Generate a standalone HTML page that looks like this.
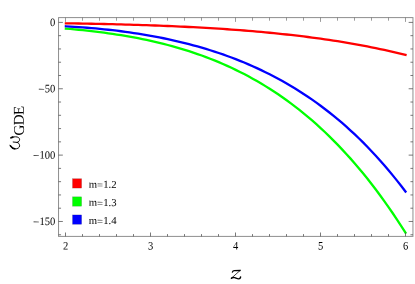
<!DOCTYPE html>
<html><head><meta charset="utf-8"><style>
html,body{margin:0;padding:0;background:#fff;}
svg{display:block;will-change:transform;}
text{font-family:"Liberation Serif",serif;font-size:10.7px;fill:#000;text-rendering:geometricPrecision;}
</style></head><body>
<svg width="415" height="284" viewBox="0 0 415 284">
<rect width="415" height="284" fill="#fff"/>
<path d="M65.90,23.33 L70.15,23.39 L74.39,23.45 L78.64,23.52 L82.88,23.59 L87.12,23.66 L91.37,23.74 L95.62,23.82 L99.86,23.91 L104.11,24.00 L108.35,24.10 L112.60,24.20 L116.84,24.30 L121.09,24.41 L125.33,24.53 L129.57,24.65 L133.82,24.78 L138.07,24.91 L142.31,25.05 L146.56,25.19 L150.80,25.34 L155.05,25.50 L159.29,25.66 L163.54,25.83 L167.78,26.00 L172.03,26.18 L176.27,26.37 L180.51,26.57 L184.76,26.77 L189.01,26.98 L193.25,27.20 L197.50,27.43 L201.74,27.66 L205.98,27.91 L210.23,28.16 L214.48,28.42 L218.72,28.69 L222.97,28.97 L227.21,29.26 L231.45,29.56 L235.70,29.87 L239.95,30.19 L244.19,30.52 L248.44,30.87 L252.68,31.22 L256.92,31.59 L261.17,31.96 L265.42,32.35 L269.66,32.76 L273.91,33.17 L278.15,33.60 L282.39,34.04 L286.64,34.50 L290.88,34.97 L295.13,35.46 L299.38,35.96 L303.62,36.48 L307.87,37.01 L312.11,37.56 L316.36,38.13 L320.60,38.71 L324.85,39.31 L329.09,39.93 L333.33,40.57 L337.58,41.23 L341.82,41.91 L346.07,42.61 L350.32,43.33 L354.56,44.07 L358.81,44.84 L363.05,45.62 L367.30,46.44 L371.54,47.27 L375.79,48.13 L380.03,49.01 L384.27,49.92 L388.52,50.86 L392.76,51.83 L397.01,52.82 L401.26,53.84 L405.50,54.90" stroke="#ff0000" stroke-width="2.3" fill="none" stroke-linecap="square" stroke-linejoin="round"/>
<path d="M65.90,28.58 L70.15,28.95 L74.39,29.33 L78.64,29.74 L82.88,30.17 L87.12,30.62 L91.37,31.10 L95.62,31.60 L99.86,32.13 L104.11,32.68 L108.35,33.27 L112.60,33.88 L116.84,34.52 L121.09,35.19 L125.33,35.90 L129.57,36.64 L133.82,37.41 L138.07,38.22 L142.31,39.06 L146.56,39.95 L150.80,40.87 L155.05,41.84 L159.29,42.85 L163.54,43.90 L167.78,44.99 L172.03,46.13 L176.27,47.32 L180.51,48.56 L184.76,49.85 L189.01,51.19 L193.25,52.59 L197.50,54.04 L201.74,55.54 L205.98,57.11 L210.23,58.73 L214.48,60.42 L218.72,62.17 L222.97,63.98 L227.21,65.87 L231.45,67.82 L235.70,69.84 L239.95,71.93 L244.19,74.10 L248.44,76.34 L252.68,78.66 L256.92,81.06 L261.17,83.54 L265.42,86.11 L269.66,88.76 L273.91,91.50 L278.15,94.33 L282.39,97.25 L286.64,100.27 L290.88,103.38 L295.13,106.59 L299.38,109.91 L303.62,113.32 L307.87,116.84 L312.11,120.47 L316.36,124.21 L320.60,128.06 L324.85,132.03 L329.09,136.11 L333.33,140.31 L337.58,144.64 L341.82,149.09 L346.07,153.67 L350.32,158.38 L354.56,163.22 L358.81,168.20 L363.05,173.32 L367.30,178.57 L371.54,183.98 L375.79,189.52 L380.03,195.22 L384.27,201.07 L388.52,207.08 L392.76,213.24 L397.01,219.57 L401.26,226.05 L405.50,232.71" stroke="#00ff00" stroke-width="2.3" fill="none" stroke-linecap="square" stroke-linejoin="round"/>
<path d="M65.90,26.29 L70.15,26.53 L74.39,26.80 L78.64,27.09 L82.88,27.40 L87.12,27.73 L91.37,28.09 L95.62,28.46 L99.86,28.87 L104.11,29.29 L108.35,29.74 L112.60,30.22 L116.84,30.73 L121.09,31.26 L125.33,31.82 L129.57,32.41 L133.82,33.03 L138.07,33.68 L142.31,34.36 L146.56,35.07 L150.80,35.81 L155.05,36.59 L159.29,37.41 L163.54,38.25 L167.78,39.14 L172.03,40.06 L176.27,41.03 L180.51,42.03 L184.76,43.07 L189.01,44.15 L193.25,45.28 L197.50,46.45 L201.74,47.66 L205.98,48.92 L210.23,50.23 L214.48,51.59 L218.72,52.99 L222.97,54.45 L227.21,55.96 L231.45,57.53 L235.70,59.15 L239.95,60.82 L244.19,62.56 L248.44,64.35 L252.68,66.21 L256.92,68.13 L261.17,70.12 L265.42,72.17 L269.66,74.29 L273.91,76.48 L278.15,78.74 L282.39,81.08 L286.64,83.49 L290.88,85.98 L295.13,88.55 L299.38,91.20 L303.62,93.94 L307.87,96.76 L312.11,99.67 L316.36,102.67 L320.60,105.77 L324.85,108.96 L329.09,112.25 L333.33,115.64 L337.58,119.13 L341.82,122.74 L346.07,126.45 L350.32,130.27 L354.56,134.21 L358.81,138.27 L363.05,142.44 L367.30,146.75 L371.54,151.18 L375.79,155.74 L380.03,160.44 L384.27,165.27 L388.52,170.25 L392.76,175.37 L397.01,180.64 L401.26,186.07 L405.50,191.65" stroke="#0000ff" stroke-width="2.3" fill="none" stroke-linecap="square" stroke-linejoin="round"/>
<rect x="58.55" y="17.6" width="354.4" height="218.8" fill="none" stroke="#8e8e8e" stroke-width="1"/>
<path d="M65.50,236.4 v-3.9 M82.50,236.4 v-2.3 M99.50,236.4 v-2.3 M116.50,236.4 v-2.3 M133.50,236.4 v-2.3 M150.50,236.4 v-3.9 M167.50,236.4 v-2.3 M184.50,236.4 v-2.3 M201.50,236.4 v-2.3 M218.50,236.4 v-2.3 M235.50,236.4 v-3.9 M252.50,236.4 v-2.3 M269.50,236.4 v-2.3 M286.50,236.4 v-2.3 M303.50,236.4 v-2.3 M320.50,236.4 v-3.9 M337.50,236.4 v-2.3 M354.50,236.4 v-2.3 M371.50,236.4 v-2.3 M388.50,236.4 v-2.3 M405.50,236.4 v-3.9 M58.55,22.40 h4.3 M412.95,22.40 h-4.3 M58.55,35.67 h2.5 M412.95,35.67 h-2.5 M58.55,48.94 h2.5 M412.95,48.94 h-2.5 M58.55,62.22 h2.5 M412.95,62.22 h-2.5 M58.55,75.49 h2.5 M412.95,75.49 h-2.5 M58.55,88.76 h4.3 M412.95,88.76 h-4.3 M58.55,102.03 h2.5 M412.95,102.03 h-2.5 M58.55,115.30 h2.5 M412.95,115.30 h-2.5 M58.55,128.58 h2.5 M412.95,128.58 h-2.5 M58.55,141.85 h2.5 M412.95,141.85 h-2.5 M58.55,155.12 h4.3 M412.95,155.12 h-4.3 M58.55,168.39 h2.5 M412.95,168.39 h-2.5 M58.55,181.66 h2.5 M412.95,181.66 h-2.5 M58.55,194.94 h2.5 M412.95,194.94 h-2.5 M58.55,208.21 h2.5 M412.95,208.21 h-2.5 M58.55,221.48 h4.3 M412.95,221.48 h-4.3 M58.55,234.75 h2.5 M412.95,234.75 h-2.5" stroke="#4c4c4c" stroke-width="0.75" fill="none"/>
<path d="M65.50,17.6 v4.3 M82.50,17.6 v3.1 M99.50,17.6 v3.1 M116.50,17.6 v3.1 M133.50,17.6 v3.1 M150.50,17.6 v4.3 M167.50,17.6 v3.1 M184.50,17.6 v3.1 M201.50,17.6 v3.1 M218.50,17.6 v3.1 M235.50,17.6 v4.3 M252.50,17.6 v3.1 M269.50,17.6 v3.1 M286.50,17.6 v3.1 M303.50,17.6 v3.1 M320.50,17.6 v4.3 M337.50,17.6 v3.1 M354.50,17.6 v3.1 M371.50,17.6 v3.1 M388.50,17.6 v3.1 M405.50,17.6 v4.3" stroke="#666" stroke-width="0.65" fill="none"/>
<text x="65.50" y="249.5" text-anchor="middle" transform="translate(65.50 249.5) rotate(0.5) scale(0.98 1.06) translate(-65.50 -249.5)">2</text><text x="150.50" y="249.5" text-anchor="middle" transform="translate(150.50 249.5) rotate(0.5) scale(0.98 1.06) translate(-150.50 -249.5)">3</text><text x="235.50" y="249.5" text-anchor="middle" transform="translate(235.50 249.5) rotate(0.5) scale(0.98 1.06) translate(-235.50 -249.5)">4</text><text x="320.50" y="249.5" text-anchor="middle" transform="translate(320.50 249.5) rotate(0.5) scale(0.98 1.06) translate(-320.50 -249.5)">5</text><text x="405.50" y="249.5" text-anchor="middle" transform="translate(405.50 249.5) rotate(0.5) scale(0.98 1.06) translate(-405.50 -249.5)">6</text>
<text x="55.2" y="26.00" text-anchor="end" transform="translate(55.2 26.00) rotate(0.5) scale(0.98 1.06) translate(-55.2 -26.00)">0</text><text x="55.2" y="92.36" text-anchor="end" transform="translate(55.2 92.36) rotate(0.5) scale(0.98 1.06) translate(-55.2 -92.36)"><tspan letter-spacing="0" dy="1.1" font-size="11.6">−</tspan><tspan dy="-1.1">50</tspan></text><text x="55.2" y="158.72" text-anchor="end" transform="translate(55.2 158.72) rotate(0.5) scale(0.98 1.06) translate(-55.2 -158.72)"><tspan letter-spacing="0" dy="1.1" font-size="11.6">−</tspan><tspan dy="-1.1">100</tspan></text><text x="55.2" y="225.08" text-anchor="end" transform="translate(55.2 225.08) rotate(0.5) scale(0.98 1.06) translate(-55.2 -225.08)"><tspan letter-spacing="0" dy="1.1" font-size="11.6">−</tspan><tspan dy="-1.1">150</tspan></text>
<rect x="72.5" y="178.7" width="9.1" height="9.4" fill="#ff0000" stroke="#000" stroke-opacity="0.25" stroke-width="0.5"/><text x="88.8" y="187.7" transform="rotate(0.5 88.8 187.7)">m<tspan dy="0.8" fill="#333">=</tspan><tspan dy="-0.8">1.2</tspan></text><rect x="72.5" y="196.8" width="9.1" height="9.4" fill="#00ff00" stroke="#000" stroke-opacity="0.25" stroke-width="0.5"/><text x="88.8" y="205.8" transform="rotate(0.5 88.8 205.8)">m<tspan dy="0.8" fill="#333">=</tspan><tspan dy="-0.8">1.3</tspan></text><rect x="72.5" y="214.9" width="9.1" height="9.4" fill="#0000ff" stroke="#000" stroke-opacity="0.25" stroke-width="0.5"/><text x="88.8" y="223.9" transform="rotate(0.5 88.8 223.9)">m<tspan dy="0.8" fill="#333">=</tspan><tspan dy="-0.8">1.4</tspan></text>
<g fill="none" stroke="#000" stroke-linecap="round" stroke-linejoin="round"><title>z</title><path d="M232.4,272.1 C232.7,271.1 233.3,270.6 234.3,270.6 L240.1,270.5" stroke-width="1.3"/><path d="M240.2,270.4 L231.2,278.4" stroke-width="0.75"/><path d="M231.4,278.3 C232.3,277.3 233.4,277.2 234.8,277.7 C236.6,278.4 237.6,279.0 238.8,278.9 C239.8,278.8 240.4,278.1 240.6,277.0" stroke-width="1.4"/></g>
<g fill="none" stroke="#000" stroke-linecap="round" stroke-linejoin="round" stroke-width="0.95"><title>ω</title><path d="M10.0,145.2 C11,147.2 12.8,148.9 15,148.9 C17.5,148.9 19.6,147.8 19.6,145.8 C19.6,144 18.6,142.7 17,142.4 L13.2,142.0"/><path d="M17,142.4 C18.8,142 19.6,140.8 19.6,139.7 C19.6,137.8 18,136.8 15.5,136.8 C13.5,136.8 12.2,137.1 11.0,137.7"/><path d="M11.0,137.8 L12.8,137.1" stroke-width="1.7"/><path d="M10.5,145.9 C11.5,147.5 13,148.7 14.8,148.8" stroke-width="1.6"/></g>
<g transform="translate(19.9,150.2) rotate(-90.4)"><text x="14.6" y="4.1" style="font-size:15px;letter-spacing:-0.6px;">GDE</text></g>
</svg>
</body></html>
